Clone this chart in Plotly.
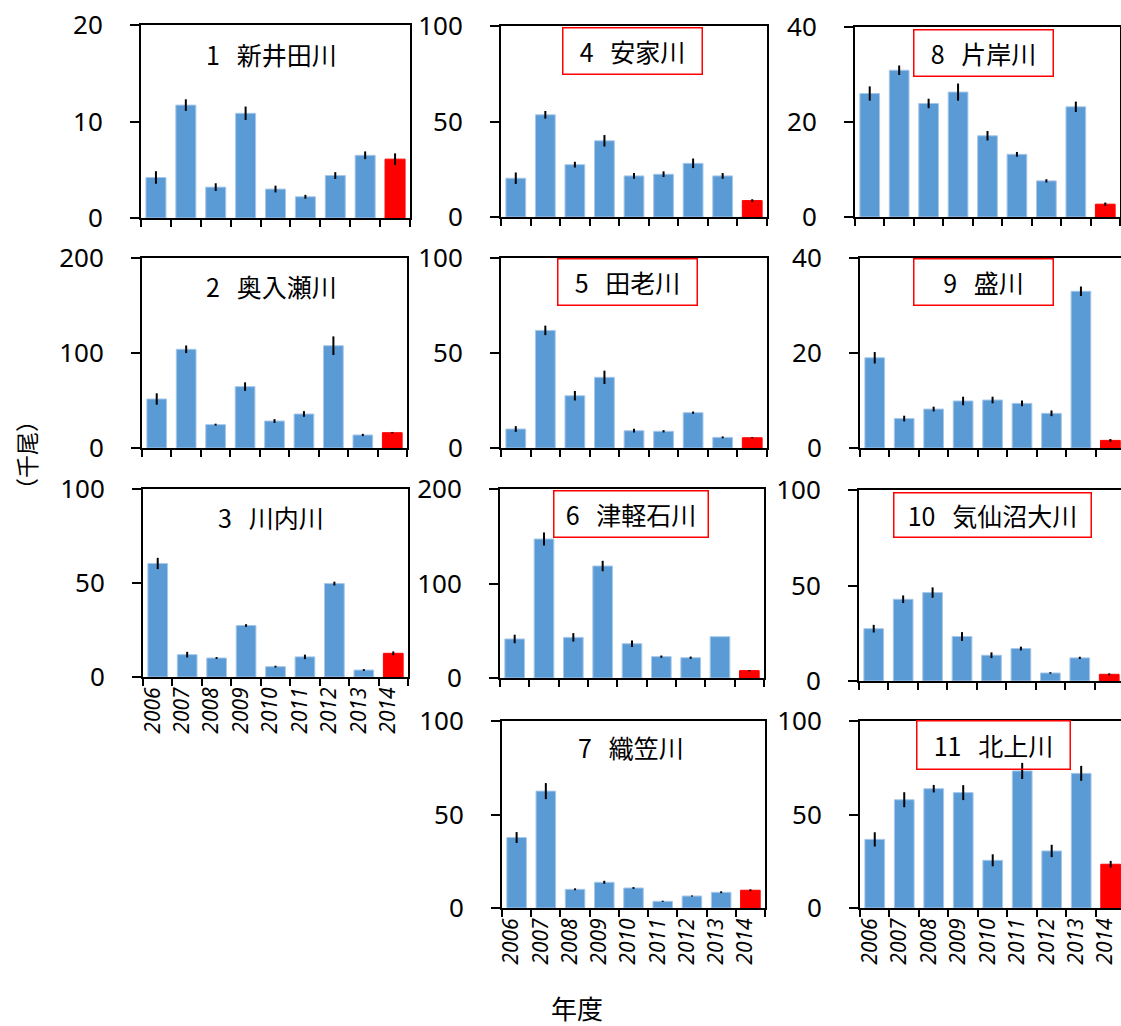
import plotly.graph_objects as go

years = ["2006", "2007", "2008", "2009", "2010", "2011", "2012", "2013", "2014"]

SP = "\u00a0\u00a0\u00a0"
names = ["1" + SP + "新井田川", "2" + SP + "奥入瀬川", "3" + SP + "川内川", "4" + SP + "安家川",
         "5" + SP + "田老川", "6" + SP + "津軽石川", "7" + SP + "織笠川", "8" + SP + "片岸川",
         "9" + SP + "盛川", "10" + SP + "気仙沼大川", "11" + SP + "北上川"]

ymax = [20, 200, 100, 100, 100, 200, 100, 40, 40, 100, 100]

v1 = [4.2, 11.7, 3.2, 10.85, 3.0, 2.2, 4.4, 6.5, 6.1]
e1 = [0.65, 0.6, 0.4, 0.7, 0.35, 0.2, 0.35, 0.4, 0.6]
v2 = [51.6, 103.9, 24.6, 64.6, 28.4, 35.8, 107.7, 13.7, 16.1]
e2 = [6, 4, 1, 4.5, 2, 3, 9.8, 1.2, 0.8]
v3 = [60.4, 11.9, 10.1, 27.4, 5.5, 10.7, 49.7, 3.7, 12.6]
e3 = [3, 1.5, 0.5, 0.7, 0.5, 1.2, 1, 0.5, 1]
v4 = [20.3, 53.5, 27.4, 39.9, 21.5, 22.4, 28.1, 21.5, 8.6]
e4 = [3, 2, 1.5, 3, 1.5, 1.5, 2.5, 1.5, 0.7]
v5 = [10.0, 61.9, 27.5, 37.2, 9.1, 8.8, 18.6, 5.6, 5.4]
e5 = [1.5, 2.5, 2.5, 3.5, 1, 0.6, 0.6, 0.5, 0.3]
v6 = [41.3, 147.1, 43.0, 118.5, 36.3, 22.6, 21.5, 43.7, 7.8]
e6 = [4.5, 7, 4.5, 5.5, 3.5, 1.2, 1.2, 0, 0.7]
v7 = [37.7, 62.5, 10.0, 13.75, 10.7, 3.6, 6.4, 8.4, 9.5]
e7 = [2.9, 4.3, 0.5, 0.8, 0.5, 0.3, 0.3, 0.5, 0.5]
v8 = [26.0, 30.9, 23.9, 26.3, 17.1, 13.2, 7.6, 23.2, 2.7]
e8 = [1.5, 1, 1, 1.8, 1, 0.5, 0.35, 1.1, 0.35]
v9 = [19.0, 6.2, 8.2, 9.9, 10.1, 9.4, 7.3, 33.0, 1.6]
e9 = [1.2, 0.6, 0.5, 0.9, 0.7, 0.6, 0.6, 1.0, 0.3]
v10 = [27.4, 42.8, 46.3, 23.3, 13.5, 17.0, 4.2, 12.1, 3.5]
e10 = [2, 2, 2.7, 2.3, 1.5, 1, 0.4, 0.6, 0.5]
v11 = [36.7, 57.9, 63.8, 61.7, 25.5, 73.3, 30.5, 72.0, 23.4]
e11 = [3.8, 4, 2, 4, 3.2, 4.3, 3.3, 4, 1.8]

values = [v1, v2, v3, v4, v5, v6, v7, v8, v9, v10, v11]
errors = [e1, e2, e3, e4, e5, e6, e7, e8, e9, e10, e11]

# ---- layout geometry (pixels) ----
W, H = 1121, 1026
# left, right(visible), top, bottom, x-range end, show labels, mirror right
geom = [
    (141, 410, 25, 218, 8.5, False, True),
    (142, 407, 258, 448, 8.5, False, True),
    (143, 408, 489, 677, 8.5, True, True),
    (501, 767, 26, 217, 8.5, False, True),
    (501, 767, 258, 448, 8.5, False, True),
    (500, 764, 489, 678, 8.5, False, True),
    (502, 765, 721, 908, 8.5, True, True),
    (855, 1120, 27, 217, 8.5, False, True),
    (860, 1121, 258, 448, 8.36, False, False),
    (859, 1121, 490, 681, 8.4, False, False),
    (860, 1121, 721, 908, 8.35, True, False),
]
# label center (px) and box size (None = no box)
labels = [
    (271, 54, None), (271, 286, None), (271, 517, None),
    (632, 51, (141, 48)), (627, 282, (141, 48)), (631, 514, (156, 48)),
    (631, 747, None),
    (983, 53, (141, 48)), (983, 282, (141, 48)), (992, 515, (199, 46)),
    (993, 745, (155, 50)),
]

BLUE = "#5B9BD5"
RED = "#FF0000"
FONT = "Noto Sans CJK JP"

fig = go.Figure()
annotations = []
for i in range(11):
    n = i + 1
    sfx = "" if n == 1 else str(n)
    colors = [BLUE] * 8 + [RED]
    lines = ["#A8C8EA"] * 8 + [RED]
    fig.add_trace(go.Bar(
        x=years, y=values[i],
        error_y=dict(type="data", array=errors[i], visible=True,
                     color="black", thickness=2, width=0),
        marker=dict(color=colors, line=dict(color=lines, width=1)),
        width=0.67,
        xaxis="x" + sfx, yaxis="y" + sfx, showlegend=False,
    ))
    L, R, T, B, xend, showlab, mir = geom[i]
    fig.layout["xaxis" + sfx] = dict(
        domain=[L / W, R / W], anchor="y" + sfx, type="category",
        range=[-0.5, xend], showgrid=False, showline=True, linecolor="black",
        linewidth=2, mirror=True, ticks="outside", tickson="boundaries",
        ticklen=7, tickwidth=1.5, tickcolor="black", automargin=False,
        showticklabels=showlab, tickangle=-90, ticklabelshift=-5,
        tickfont=dict(family="Noto Sans", size=21, color="black", style="italic"),
        fixedrange=True,
    )
    fig.layout["yaxis" + sfx] = dict(
        domain=[1 - B / H, 1 - T / H], anchor="x" + sfx,
        range=[0, ymax[i]], tickvals=[0, ymax[i] / 2, ymax[i]],
        showgrid=False, zeroline=False, showline=True, linecolor="black",
        linewidth=2, mirror=mir, ticks="outside", ticklen=9, tickwidth=1.5,
        tickcolor="black", ticklabelstandoff=22, automargin=False,
        tickfont=dict(family="Noto Sans", size=26, color="black"),
        fixedrange=True,
    )
    cx, cy, box = labels[i]
    ann = dict(text=names[i], x=cx / W, y=1 - cy / H, xref="paper", yref="paper",
               showarrow=False, xanchor="center", yanchor="middle",
               font=dict(family=FONT, size=25, color="black"))
    if box is not None:
        ann.update(bordercolor=RED, borderwidth=1.5, borderpad=0,
                   width=box[0] - 3, height=box[1] - 3)
    annotations.append(ann)

annotations.append(dict(text="（千尾）", x=26 / W, y=1 - 455 / H, xref="paper", yref="paper",
                        showarrow=False, textangle=-90, xanchor="center", yanchor="middle",
                        font=dict(family=FONT, size=23, color="black")))
annotations.append(dict(text="年度", x=577 / W, y=1 - 1007 / H, xref="paper", yref="paper",
                        showarrow=False, xanchor="center", yanchor="middle",
                        font=dict(family=FONT, size=26, color="black")))

fig.update_layout(
    width=W, height=H, margin=dict(l=0, r=0, t=0, b=0, autoexpand=False),
    paper_bgcolor="white", plot_bgcolor="white",
    annotations=annotations, bargap=0.33,
)
fig.write_html("out.html", config={"displayModeBar": False},
               post_script="document.body.style.margin='0';document.body.style.overflow='hidden';")
